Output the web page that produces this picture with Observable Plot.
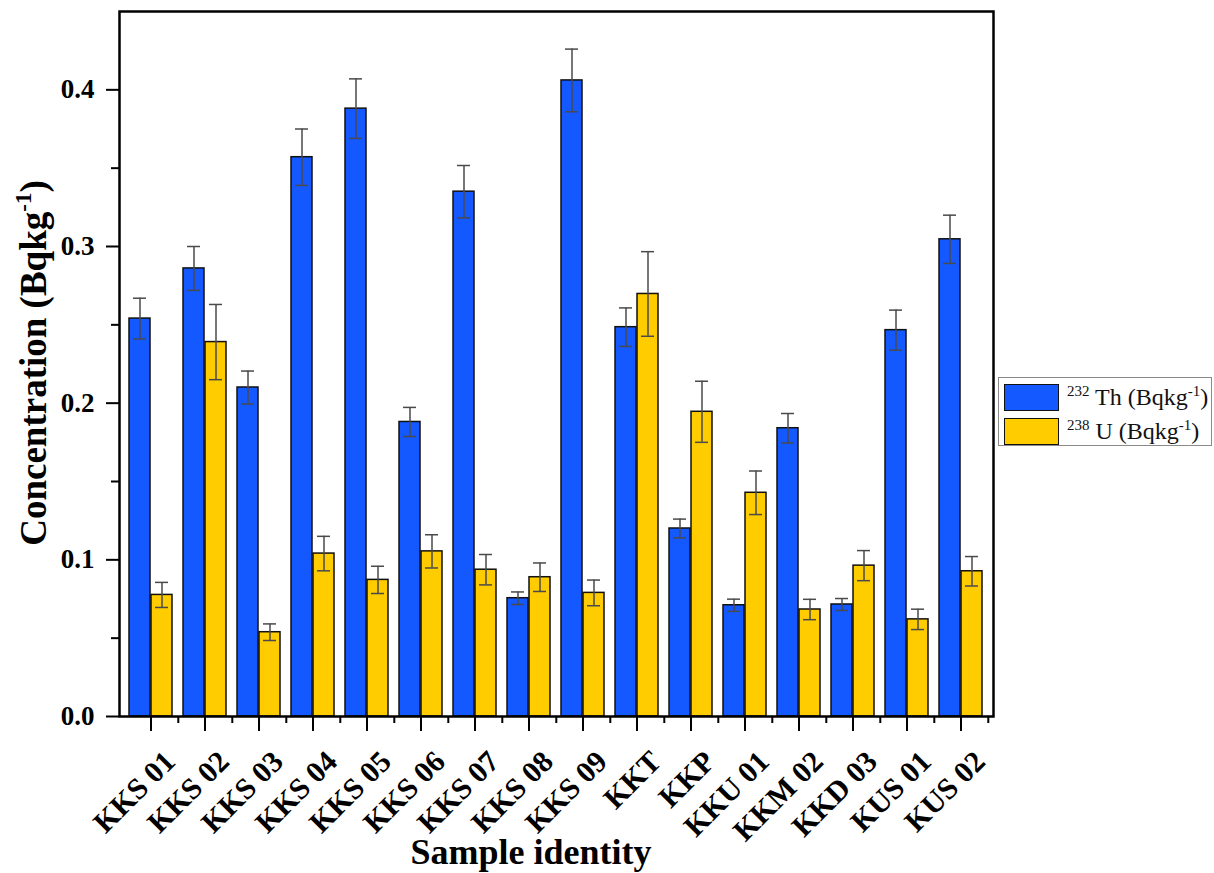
<!DOCTYPE html>
<html>
<head>
<meta charset="utf-8">
<script src="https://cdn.jsdelivr.net/npm/d3@7"></script>
<script src="https://cdn.jsdelivr.net/npm/@observablehq/plot@0.6"></script>
<style>
  html, body { margin: 0; padding: 0; background: #fff; }
  #wrap { position: relative; width: 1214px; height: 873px; font-family: "Liberation Serif", "Times New Roman", serif; }
  #legend { position: absolute; left: 998px; top: 377px; width: 214px; height: 69px; border: 1.5px solid #8a8a8a; background: #fff; box-sizing: border-box; }
  .row { position: absolute; left: 5px; height: 27px; display: flex; align-items: center; }
  .sw { width: 55px; height: 27px; border: 1.5px solid #111; box-sizing: border-box; flex: none; }
  .lt { margin-left: 8px; font-size: 24px; color: #111; white-space: nowrap; }
  .lt sup { font-size: 15px; vertical-align: 9px; line-height: 0; }
</style>
</head>
<body>
<div id="wrap"><div id="legend"></div></div>
<script>
const samples = ["KKS 01","KKS 02","KKS 03","KKS 04","KKS 05","KKS 06","KKS 07","KKS 08","KKS 09","KKT","KKP","KKU 01","KKM 02","KKD 03","KUS 01","KUS 02"];
const thValues = [0.254, 0.286, 0.210, 0.357, 0.388, 0.188, 0.335, 0.0755, 0.406, 0.2485, 0.120, 0.071, 0.184, 0.0715, 0.2466, 0.3046];
const thErrors = [0.013, 0.014, 0.0105, 0.018, 0.019, 0.0093, 0.0167, 0.004, 0.020, 0.0123, 0.006, 0.0039, 0.0094, 0.0038, 0.0128, 0.0154];
const uValues  = [0.0776, 0.239, 0.0538, 0.104, 0.0872, 0.1054, 0.0937, 0.0889, 0.0789, 0.2697, 0.1945, 0.1428, 0.0683, 0.0963, 0.0620, 0.0927];
const uErrors  = [0.008, 0.024, 0.0053, 0.011, 0.0087, 0.0106, 0.0097, 0.0091, 0.0082, 0.027, 0.0195, 0.0139, 0.0065, 0.0096, 0.0065, 0.0094];
const yMajorTicks = [0, 0.1, 0.2, 0.3, 0.4];
const yMinorTicks = [0.05, 0.15, 0.25, 0.35];

const TH_COLOR = "#1458ff";
const U_COLOR = "#ffcc00";

const th = samples.map((s, i) => ({sample: s, value: thValues[i], lo: thValues[i] - thErrors[i], hi: thValues[i] + thErrors[i]}));
const u  = samples.map((s, i) => ({sample: s, value: uValues[i], lo: uValues[i] - uErrors[i], hi: uValues[i] + uErrors[i]}));

const half = 22;
const stepHalf = 27.3;
const errStroke = "#4a4a4a";

const chart = Plot.plot({
  width: 1214,
  height: 873,
  marginLeft: 119,
  marginRight: 221,
  marginTop: 11,
  marginBottom: 157,
  style: {fontFamily: "'Liberation Serif', 'Times New Roman', serif", color: "#000", background: "#fff"},
  x: {type: "band", domain: samples, paddingInner: 0.195, paddingOuter: 0.0975, axis: null},
  y: {domain: [0, 0.45], axis: null},
  marks: [
    Plot.barY(th, {x: "sample", y: "value", fill: TH_COLOR, stroke: "#111", strokeWidth: 1.5, insetRight: half}),
    Plot.barY(u,  {x: "sample", y: "value", fill: U_COLOR, stroke: "#111", strokeWidth: 1.5, insetLeft: half}),
    Plot.ruleX(th, {x: "sample", y1: "lo", y2: "hi", dx: -11, stroke: errStroke, strokeWidth: 1.5}),
    Plot.ruleX(u,  {x: "sample", y1: "lo", y2: "hi", dx: 11, stroke: errStroke, strokeWidth: 1.5}),
    Plot.tickY(th, {x: "sample", y: "hi", insetLeft: 4, insetRight: 26, stroke: errStroke, strokeWidth: 1.5}),
    Plot.tickY(th, {x: "sample", y: "lo", insetLeft: 4, insetRight: 26, stroke: errStroke, strokeWidth: 1.5}),
    Plot.tickY(u,  {x: "sample", y: "hi", insetLeft: 26, insetRight: 4, stroke: errStroke, strokeWidth: 1.5}),
    Plot.tickY(u,  {x: "sample", y: "lo", insetLeft: 26, insetRight: 4, stroke: errStroke, strokeWidth: 1.5}),
    Plot.axisY({ticks: yMajorTicks, tickFormat: d3.format(".1f"), tickSize: 13, tickPadding: 12, strokeWidth: 2, fontSize: 27, fontWeight: "bold", label: null}),
    Plot.axisY({ticks: yMinorTicks, tickFormat: () => "", tickSize: 8, strokeWidth: 2, label: null}),
    Plot.axisX({ticks: samples, tickSize: 15, strokeWidth: 2, tickFormat: () => "", label: null}),
    Plot.axisX({ticks: samples, tickSize: 7, strokeWidth: 2, dx: stepHalf, tickFormat: () => "", label: null}),
    Plot.axisX({ticks: samples, tickSize: 0, tickRotate: -45, tickPadding: 40, dx: 19, fontSize: 30, fontWeight: "bold", label: null}),
    Plot.frame({stroke: "#000", strokeWidth: 2.5})
  ]
});

document.getElementById("wrap").prepend(chart);

// axis titles with superscript
const svg = d3.select(chart);
const yl = svg.append("text")
  .attr("transform", "translate(46,363) rotate(-90)")
  .attr("text-anchor", "middle")
  .attr("font-size", 37).attr("font-weight", "bold")
  .attr("font-family", "'Liberation Serif', 'Times New Roman', serif")
  .attr("fill", "#000");
yl.append("tspan").text("Concentration (Bqkg");
yl.append("tspan").attr("font-size", 23).attr("dy", -15).text("-1");
yl.append("tspan").attr("dy", 15).text(")");

svg.append("text")
  .attr("x", 531).attr("y", 864)
  .attr("text-anchor", "middle")
  .attr("font-size", 36).attr("font-weight", "bold")
  .attr("font-family", "'Liberation Serif', 'Times New Roman', serif")
  .attr("fill", "#000")
  .text("Sample identity");

// legend
const legendItems = [
  {color: TH_COLOR, iso: "232", el: "Th"},
  {color: U_COLOR, iso: "238", el: "U"}
];
const lg = d3.select("#legend");
legendItems.forEach((d, i) => {
  const row = lg.append("div").attr("class", "row").style("top", (6 + i * 34) + "px");
  row.append("div").attr("class", "sw").style("background", d.color);
  row.append("div").attr("class", "lt").html(`<sup>${d.iso}</sup> ${d.el} (Bqkg<sup>-1</sup>)`);
});
</script>
</body>
</html>
